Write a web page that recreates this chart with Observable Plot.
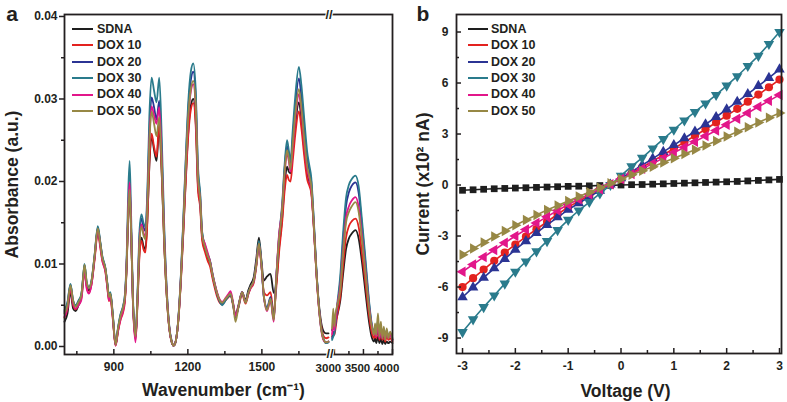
<!DOCTYPE html>
<html>
<head>
<meta charset="utf-8">
<script src="https://cdn.jsdelivr.net/npm/d3@7"></script>
<script src="https://cdn.jsdelivr.net/npm/@observablehq/plot@0.6"></script>
<style>
  html, body { margin: 0; padding: 0; background: #fff; }
  #wrap { position: relative; width: 787px; height: 402px; overflow: hidden; font-family: "Liberation Sans", Arial, Helvetica, sans-serif; color: #231f20; }
  .panel { position: absolute; top: 0; }
  .lg-line { position: absolute; height: 2px; }
  .lg-text { position: absolute; font-weight: bold; font-size: 12.5px; line-height: 15px; white-space: nowrap; color: #231f20; }
</style>
</head>
<body>
<div id="wrap"></div>
<script>
// ---------------- shared series ----------------
const seriesNames = ["SDNA", "DOX 10", "DOX 20", "DOX 30", "DOX 40", "DOX 50"];
const seriesColors = ["#1e1e1e", "#e3221f", "#2b3494", "#2a7b8c", "#e2168a", "#978845"];

// ---------------- panel a : FTIR spectra ----------------
const wavenumbers = [
  700,712,724,735,745,757,768,776,781,790,
  799,810,822,835,845,853,866,874,880,886,
  895,907,917,927,938,945,952,958,964,970,
  977,988,996,1004,1012,1020,1028,1036,1044,1053,
  1063,1073,1084,1094,1104,1115,1125,1135,1143,1152,
  1162,1172,1182,1192,1202,1212,1222,1232,1241,1250,
  1258,1270,1280,1290,1299,1309,1319,1329,1339,1353,
  1365,1373,1383,1393,1405,1420,1434,1445,1454,1467,
  1478,1488,1498,1508,1521,1535,1548,1558,1569,1582,
  1592,1602,1609,1616,1625,1635,1650,1660,1672,1684,
  1692,1700,1710,1720,1731,1741,1751,1760,1770,
  2960,2980,3000,3020,3050,3100,3150,3200,3250,3300,
  3362,3420,3470,3520,3560,3600,3640,3680,3700,3720,
  3750,3775,3800,3825,3850,3875,3900,3930,3960,4000
];
const absSDNA = [
  .0030,.0040,.0066,.0046,.0043,.0050,.0060,.0082,.0096,.0074,
  .0068,.0078,.0108,.0142,.0124,.0107,.0093,.0074,.0059,.0063,
  .0039,.0002,.0020,.0035,.0046,.0058,.0098,.0158,.0190,.0140,
  .0058,.0011,.0055,.0115,.0132,.0122,.0118,.0155,.0220,.0255,
  .0238,.0225,.0265,.0210,.0125,.0058,.0021,.0005,.0001,.0008,
  .0034,.0082,.0142,.0207,.0262,.0292,.0300,.0272,.0195,.0172,
  .0132,.0118,.0108,.0101,.0087,.0074,.0063,.0055,.0052,.0057,
  .0061,.0063,.0052,.0038,.0050,.0066,.0056,.0068,.0075,.0084,
  .0108,.0132,.0105,.0080,.0085,.0088,.0065,.0075,.0118,.0155,
  .0195,.0218,.0212,.0210,.0235,.0267,.0296,.0276,.0238,.0210,
  .0200,.0190,.0148,.0095,.0052,.0028,.0018,.0016,.0016,
  .0020,.0022,.0024,.0030,.0038,.0055,.0088,.0118,.0131,.0137,
  .0141,.0130,.0105,.0075,.0050,.0028,.0012,.0006,.0010,.0004,
  .0012,.0004,.0010,.0003,.0008,.0003,.0006,.0004,.0006,.0004
];
const absDOX10 = [
  .0035,.0046,.0070,.0050,.0045,.0051,.0058,.0080,.0094,.0072,
  .0065,.0076,.0105,.0138,.0120,.0104,.0090,.0070,.0055,.0058,
  .0036,.0001,.0018,.0032,.0042,.0055,.0096,.0156,.0188,.0138,
  .0056,.0008,.0052,.0110,.0128,.0118,.0114,.0152,.0222,.0258,
  .0242,.0230,.0270,.0212,.0126,.0058,.0021,.0005,.0001,.0008,
  .0033,.0080,.0140,.0203,.0257,.0287,.0295,.0266,.0190,.0168,
  .0128,.0114,.0104,.0097,.0084,.0071,.0060,.0053,.0051,.0056,
  .0060,.0062,.0050,.0036,.0047,.0063,.0052,.0063,.0070,.0077,
  .0098,.0122,.0098,.0066,.0062,.0066,.0040,.0070,.0112,.0150,
  .0188,.0208,.0202,.0200,.0225,.0256,.0285,.0265,.0230,.0202,
  .0195,.0186,.0146,.0093,.0048,.0024,.0012,.0010,.0011,
  .0012,.0018,.0014,.0022,.0038,.0060,.0098,.0132,.0146,.0152,
  .0155,.0144,.0116,.0086,.0060,.0036,.0018,.0010,.0016,.0010,
  .0020,.0008,.0016,.0008,.0014,.0006,.0012,.0008,.0010,.0006
];
const absDOX20 = [
  .0042,.0052,.0075,.0055,.0049,.0055,.0062,.0085,.0099,.0077,
  .0071,.0080,.0110,.0144,.0126,.0109,.0094,.0075,.0060,.0064,
  .0041,.0002,.0022,.0038,.0049,.0062,.0102,.0163,.0195,.0144,
  .0060,.0010,.0062,.0132,.0155,.0145,.0140,.0180,.0260,.0302,
  .0290,.0275,.0298,.0235,.0138,.0063,.0023,.0005,.0001,.0008,
  .0036,.0087,.0154,.0227,.0289,.0323,.0333,.0300,.0212,.0182,
  .0137,.0121,.0111,.0103,.0089,.0075,.0063,.0055,.0051,.0057,
  .0061,.0063,.0052,.0035,.0048,.0066,.0054,.0065,.0072,.0080,
  .0101,.0126,.0100,.0060,.0047,.0060,.0034,.0082,.0130,.0168,
  .0215,.0243,.0233,.0220,.0252,.0290,.0325,.0303,.0262,.0226,
  .0214,.0200,.0153,.0097,.0049,.0021,.0008,.0005,.0006,
  .0010,.0015,.0018,.0028,.0048,.0078,.0128,.0170,.0187,.0195,
  .0199,.0185,.0150,.0112,.0080,.0050,.0027,.0015,.0022,.0013,
  .0030,.0010,.0022,.0010,.0020,.0010,.0018,.0012,.0014,.0008
];
const absDOX30 = [
  .0044,.0054,.0076,.0056,.0050,.0056,.0063,.0086,.0100,.0078,
  .0072,.0081,.0111,.0146,.0127,.0110,.0095,.0076,.0062,.0066,
  .0042,.0003,.0023,.0039,.0050,.0064,.0110,.0185,.0225,.0160,
  .0065,.0012,.0066,.0140,.0160,.0150,.0145,.0190,.0280,.0326,
  .0310,.0296,.0326,.0255,.0148,.0067,.0024,.0006,.0001,.0008,
  .0037,.0089,.0158,.0233,.0298,.0333,.0343,.0310,.0218,.0186,
  .0139,.0122,.0112,.0104,.0090,.0076,.0064,.0055,.0050,.0056,
  .0061,.0063,.0052,.0036,.0048,.0066,.0054,.0065,.0072,.0080,
  .0102,.0128,.0102,.0060,.0046,.0058,.0033,.0083,.0132,.0172,
  .0220,.0250,.0238,.0225,.0262,.0302,.0339,.0317,.0275,.0235,
  .0220,.0205,.0156,.0099,.0050,.0021,.0008,.0004,.0005,
  .0008,.0012,.0016,.0030,.0052,.0085,.0138,.0180,.0196,.0203,
  .0207,.0193,.0157,.0118,.0085,.0053,.0029,.0017,.0024,.0014,
  .0032,.0012,.0024,.0012,.0022,.0010,.0020,.0012,.0016,.0010
];
const absDOX40 = [
  .0036,.0047,.0072,.0052,.0046,.0050,.0056,.0079,.0094,.0070,
  .0064,.0076,.0107,.0141,.0122,.0105,.0091,.0071,.0056,.0061,
  .0037,.0001,.0019,.0033,.0044,.0058,.0102,.0166,.0199,.0145,
  .0056,.0005,.0058,.0128,.0148,.0138,.0133,.0174,.0250,.0291,
  .0280,.0270,.0290,.0228,.0134,.0062,.0022,.0005,.0001,.0008,
  .0035,.0084,.0148,.0217,.0277,.0309,.0318,.0287,.0203,.0177,
  .0134,.0124,.0114,.0103,.0089,.0076,.0065,.0057,.0054,.0059,
  .0064,.0067,.0054,.0037,.0049,.0066,.0054,.0064,.0071,.0079,
  .0100,.0124,.0099,.0061,.0043,.0056,.0030,.0082,.0134,.0166,
  .0208,.0235,.0225,.0212,.0240,.0274,.0306,.0285,.0246,.0214,
  .0203,.0190,.0148,.0094,.0047,.0019,.0007,.0005,.0006,
  .0015,.0030,.0020,.0032,.0050,.0072,.0116,.0156,.0170,.0177,
  .0181,.0168,.0137,.0102,.0073,.0046,.0026,.0014,.0020,.0012,
  .0028,.0010,.0022,.0010,.0020,.0009,.0018,.0010,.0014,.0008
];
const absDOX50 = [
  .0040,.0050,.0074,.0055,.0048,.0054,.0062,.0085,.0099,.0078,
  .0071,.0080,.0110,.0143,.0125,.0108,.0094,.0075,.0060,.0064,
  .0040,.0002,.0022,.0037,.0048,.0060,.0100,.0160,.0190,.0140,
  .0060,.0012,.0060,.0125,.0145,.0135,.0130,.0170,.0245,.0285,
  .0270,.0255,.0278,.0220,.0130,.0060,.0022,.0005,.0001,.0008,
  .0035,.0085,.0150,.0220,.0280,.0312,.0322,.0290,.0205,.0178,
  .0135,.0120,.0110,.0102,.0088,.0075,.0064,.0056,.0053,.0058,
  .0062,.0064,.0052,.0030,.0048,.0066,.0053,.0065,.0072,.0080,
  .0100,.0125,.0100,.0062,.0044,.0058,.0032,.0080,.0128,.0165,
  .0210,.0238,.0228,.0215,.0245,.0280,.0312,.0290,.0250,.0218,
  .0207,.0195,.0150,.0095,.0048,.0020,.0008,.0005,.0006,
  .0022,.0046,.0024,.0040,.0050,.0068,.0112,.0150,.0163,.0170,
  .0175,.0162,.0132,.0098,.0070,.0044,.0025,.0014,.0028,.0014,
  .0040,.0012,.0030,.0010,.0024,.0008,.0022,.0010,.0018,.0008
];
const absTicksMajor = [0, 0.01, 0.02, 0.03, 0.04];
const absTicksMinor = [0.005, 0.015, 0.025, 0.035];
const wnTicksLeft = [900, 1200, 1500];
const wnTicksRight = [3000, 3500, 4000];
const wnTicksMinor = [750, 1050, 1350, 1650, 3250, 3750];
const wnSegments = [700, 1770, 2950, 4000]; // broken axis: [left start, left end, right start, right end]

// ---------------- panel b : I-V curves ----------------
const voltages = [-3.0,-2.8,-2.6,-2.4,-2.2,-2.0,-1.8,-1.6,-1.4,-1.2,-1.0,-0.8,-0.6,-0.4,-0.2,0.0,
                  0.2,0.4,0.6,0.8,1.0,1.2,1.4,1.6,1.8,2.0,2.2,2.4,2.6,2.8,3.0];
const curSDNA = [-0.31,-0.28,-0.25,-0.22,-0.20,-0.18,-0.16,-0.14,-0.12,-0.10,-0.08,-0.07,-0.05,-0.03,-0.02,0.00,
                  0.02,0.03,0.05,0.07,0.09,0.11,0.13,0.15,0.17,0.19,0.21,0.24,0.27,0.30,0.33];
const curDOX10 = [-6.0,-5.48,-4.97,-4.46,-3.97,-3.5,-3.04,-2.6,-2.16,-1.72,-1.3,-0.95,-0.62,-0.29,0.03,0.35,
                  0.69,1.04,1.4,1.77,2.15,2.52,2.9,3.28,3.68,4.08,4.48,4.9,5.32,5.75,6.2];
const curDOX20 = [-6.6,-6.02,-5.45,-4.9,-4.35,-3.8,-3.3,-2.82,-2.35,-1.9,-1.45,-1.07,-0.7,-0.33,0.03,0.4,
                  0.78,1.16,1.55,1.95,2.35,2.75,3.15,3.57,4.0,4.45,4.9,5.35,5.83,6.3,6.8];
const curDOX30 = [-8.65,-7.9,-7.18,-6.5,-5.8,-5.1,-4.5,-3.9,-3.3,-2.65,-2.05,-1.5,-1.0,-0.5,0.0,0.55,
                  1.1,1.6,2.15,2.7,3.25,3.8,4.3,4.8,5.3,5.85,6.4,7.0,7.6,8.3,9.0];
const curDOX40 = [-5.1,-4.67,-4.24,-3.82,-3.4,-3.0,-2.62,-2.24,-1.86,-1.5,-1.15,-0.84,-0.54,-0.25,0.05,0.35,
                  0.65,0.95,1.26,1.58,1.9,2.22,2.55,2.88,3.21,3.55,3.9,4.24,4.6,4.95,5.3];
const curDOX50 = [-4.1,-3.74,-3.38,-3.03,-2.7,-2.37,-2.06,-1.76,-1.47,-1.2,-0.94,-0.68,-0.42,-0.16,0.1,0.36,
                  0.6,0.84,1.08,1.32,1.57,1.82,2.07,2.33,2.59,2.86,3.13,3.4,3.68,3.96,4.24];
const curTicksMajor = [-9, -6, -3, 0, 3, 6, 9];
const curTicksMinor = [-7.5, -4.5, -1.5, 1.5, 4.5, 7.5];
const voltTicksMajor = [-3, -2, -1, 0, 1, 2, 3];
const voltTicksMinor = [-2.5, -1.5, -0.5, 0.5, 1.5, 2.5];
const markerSymbols = ["square", "circle", "triangle", "triangle", "triangle", "triangle"];
const markerRotations = [0, 0, 0, 180, -90, 90];

// ---------------- build ----------------
const FONT = "'Liberation Sans', Arial, Helvetica, sans-serif";
const INK = "#231f20";
const wrap = document.getElementById("wrap");
const plotStyle = {fontFamily: FONT, fontWeight: "bold", fontSize: "12px", color: INK, background: "transparent", overflow: "visible"};
const numFmt = d => String(d);

const absorbance = [absSDNA, absDOX10, absDOX20, absDOX30, absDOX40, absDOX50];
const rowsA = [];
seriesNames.forEach((s, i) => wavenumbers.forEach((w, j) => {
  rowsA.push({series: s, wn: w, a: absorbance[i][j], seg: w <= wnSegments[1] ? "L" : "R"});
}));
const breakAt = [(wnSegments[1] + wnSegments[2]) / 2];

const plotA = Plot.plot({
  width: 400, height: 402,
  marginLeft: 64, marginRight: 8, marginTop: 14, marginBottom: 48,
  style: plotStyle,
  x: {type: "linear", domain: wnSegments, range: [64, 328, 331, 392]},
  y: {domain: [-0.00097, 0.04024]},
  color: {domain: seriesNames, range: seriesColors},
  marks: [
    Plot.line(rowsA, {x: "wn", y: "a", z: d => d.series + d.seg, stroke: "series", strokeWidth: 1.8, curve: "monotone-x"}),
    Plot.axisY({ticks: absTicksMajor, tickFormat: d3.format(".2f"), tickSize: 5, tickPadding: 2, strokeWidth: 1.5, label: null}),
    Plot.axisY({ticks: absTicksMinor, tickFormat: () => "", tickSize: 3, strokeWidth: 1.5, label: null}),
    Plot.axisX({ticks: wnTicksLeft, tickFormat: numFmt, tickSize: -5, tickPadding: 13, strokeWidth: 1.5, label: null}),
    Plot.axisX({ticks: wnTicksRight, tickFormat: () => "", tickSize: -5, strokeWidth: 1.5, label: null}),
    Plot.axisX({ticks: wnTicksRight, tickFormat: numFmt, tickSize: 0, tickPadding: 9, dx: -6, fontSize: 11.5, label: null}),
    Plot.axisX({ticks: wnTicksMinor, tickFormat: () => "", tickSize: -3, strokeWidth: 1.5, label: null}),
    Plot.frame({stroke: INK, strokeWidth: 1.8}),
    Plot.text(breakAt, {x: d => d, frameAnchor: "top", text: () => "//", fontSize: 13, fontWeight: "bold", fill: INK, stroke: "white", strokeWidth: 2, paintOrder: "stroke", lineAnchor: "middle", dx: -1, dy: 0}),
    Plot.text(breakAt, {x: d => d, frameAnchor: "bottom", text: () => "//", fontSize: 13, fontWeight: "bold", fill: INK, stroke: "white", strokeWidth: 2, paintOrder: "stroke", lineAnchor: "middle", dy: -1}),
    Plot.text(["a"], {frameAnchor: "top-left", text: d => d, dx: -52.5, dy: 6, fontSize: 21, fontWeight: "bold", fill: INK, textAnchor: "middle", lineAnchor: "bottom"}),
    Plot.text(["Absorbance (a.u.)"], {frameAnchor: "left", text: d => d, dx: -47, rotate: -90, fontSize: 17.5, fontWeight: "bold", fill: INK, textAnchor: "middle", lineAnchor: "bottom"}),
    Plot.text(["Wavenumber (cm\u207B\u00B9)"], {frameAnchor: "bottom", text: d => d, dx: -5, dy: 41, fontSize: 17.5, fontWeight: "bold", fill: INK, textAnchor: "middle", lineAnchor: "bottom"})
  ]
});

const currents = [curSDNA, curDOX10, curDOX20, curDOX30, curDOX40, curDOX50];
const marksB = [];
seriesNames.forEach((s, i) => {
  const rows = voltages.map((v, j) => ({series: s, v, c: currents[i][j]}));
  marksB.push(Plot.line(rows, {x: "v", y: "c", stroke: seriesColors[i], strokeWidth: 1.6}));
  marksB.push(Plot.dot(rows, {x: "v", y: "c", fill: seriesColors[i], stroke: "none", symbol: markerSymbols[i],
    rotate: markerRotations[i], r: i === 0 ? 3.8 : (i === 1 ? 4.1 : 3.9)}));
});

const plotB = Plot.plot({
  width: 387, height: 402,
  marginLeft: 56, marginRight: 6, marginTop: 14, marginBottom: 49,
  style: plotStyle,
  x: {domain: [-3.114, 3.038]},
  y: {domain: [-9.91, 10.03]},
  marks: [
    ...marksB,
    Plot.axisY({ticks: curTicksMajor, tickFormat: numFmt, tickSize: -5, tickPadding: 13, strokeWidth: 1.5, label: null}),
    Plot.axisY({ticks: curTicksMinor, tickFormat: () => "", tickSize: -3, strokeWidth: 1.5, label: null}),
    Plot.axisX({ticks: voltTicksMajor, tickFormat: numFmt, tickSize: -5, tickPadding: 13, strokeWidth: 1.5, label: null}),
    Plot.axisX({ticks: voltTicksMinor, tickFormat: () => "", tickSize: -3, strokeWidth: 1.5, label: null}),
    Plot.frame({stroke: INK, strokeWidth: 1.8}),
    Plot.text(["b"], {frameAnchor: "top-left", text: d => d, dx: -33.5, dy: 6, fontSize: 21, fontWeight: "bold", fill: INK, textAnchor: "middle", lineAnchor: "bottom"}),
    Plot.text(["Current (x10\u00B2 nA)"], {frameAnchor: "left", text: d => d, dx: -28, rotate: -90, fontSize: 17.5, fontWeight: "bold", fill: INK, textAnchor: "middle", lineAnchor: "bottom"}),
    Plot.text(["Voltage (V)"], {frameAnchor: "bottom", text: d => d, dx: 6.5, dy: 43, fontSize: 17.5, fontWeight: "bold", fill: INK, textAnchor: "middle", lineAnchor: "bottom"})
  ]
});

const divA = document.createElement("div");
divA.className = "panel"; divA.style.left = "0px"; divA.appendChild(plotA);
const divB = document.createElement("div");
divB.className = "panel"; divB.style.left = "400px"; divB.appendChild(plotB);
wrap.appendChild(divA);
wrap.appendChild(divB);

// legends (inside each panel, top-left)
const legendRows = [29, 45.4, 61.8, 78.2, 94.6, 111];
function addLegend(lineLeft, lineWidth, textLeft) {
  seriesNames.forEach((s, i) => {
    const ln = document.createElement("div");
    ln.className = "lg-line";
    ln.style.left = lineLeft + "px";
    ln.style.width = lineWidth + "px";
    ln.style.top = (legendRows[i] - 1) + "px";
    ln.style.background = seriesColors[i];
    wrap.appendChild(ln);
    const tx = document.createElement("div");
    tx.className = "lg-text";
    tx.style.left = textLeft + "px";
    tx.style.top = (legendRows[i] - 7.3) + "px";
    tx.textContent = s;
    wrap.appendChild(tx);
  });
}
addLegend(72, 21, 97);
addLegend(468, 20, 491);
</script>
</body>
</html>
